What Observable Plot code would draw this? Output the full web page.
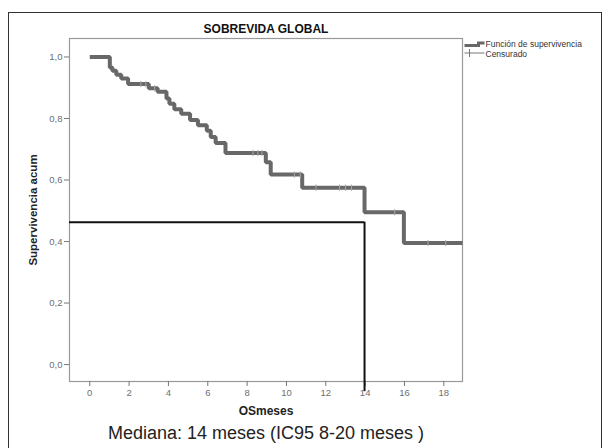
<!DOCTYPE html>
<html>
<head>
<meta charset="utf-8">
<script src="https://cdn.jsdelivr.net/npm/d3@7"></script>
<script src="https://cdn.jsdelivr.net/npm/@observablehq/plot@0.6"></script>
<style>
  html, body { margin: 0; padding: 0; background: #fff; }
  #wrap { position: relative; width: 613px; height: 448px; overflow: hidden; }
  #border { position: absolute; left: 8px; top: 12px; width: 594px; height: 450px; border: 1.5px solid #333; box-sizing: border-box; pointer-events: none; }
  #chart svg { display: block; }
</style>
</head>
<body>
<div id="wrap"><div id="chart"></div><div id="border"></div></div>
<script>
// Kaplan-Meier step points (time in months, cumulative survival)
const stepTimes = [0, 1.02, 1.15, 1.35, 1.6, 1.95, 3.0, 3.45, 3.9, 4.05, 4.3, 4.65, 5.1, 5.5, 5.95, 6.15, 6.4, 6.9, 8.95, 9.2, 10.8, 13.97, 15.97, 18.95];
const stepSurv  = [1.0, 0.966, 0.955, 0.942, 0.93, 0.912, 0.898, 0.887, 0.865, 0.848, 0.83, 0.815, 0.795, 0.778, 0.76, 0.74, 0.72, 0.688, 0.658, 0.618, 0.575, 0.495, 0.395, 0.395];
// Censored observations
const censorTimes = [2.6, 2.85, 3.3, 8.3, 8.55, 8.75, 10.4, 10.7, 11.5, 12.7, 13.0, 13.3, 15.5, 17.2, 18.1];
const censorSurv  = [0.912, 0.912, 0.898, 0.688, 0.688, 0.688, 0.618, 0.618, 0.575, 0.575, 0.575, 0.575, 0.495, 0.395, 0.395];
// Median annotation
const medianTime = 13.97;
const medianLevel = 0.463;
const medianBottom = -0.088;
const xDomain = [-1.03, 18.95];
const yDomain = [-0.055, 1.06];
const xTicks = [0, 2, 4, 6, 8, 10, 12, 14, 16, 18];
const yTicks = [0, 0.2, 0.4, 0.6, 0.8, 1.0];
const titleText = "SOBREVIDA GLOBAL";
const xLabel = "OSmeses";
const yLabel = "Supervivencia acum";
const caption = "Mediana: 14 meses (IC95 8-20 meses )";
const legendLabels = ["Función de supervivencia", "Censurado"];

const steps = stepTimes.map((t, i) => ({t, s: stepSurv[i]}));
const censors = censorTimes.map((t, i) => ({t, s: censorSurv[i]}));

const vbar = { draw(ctx, size) { const r = Math.sqrt(size / Math.PI); ctx.moveTo(0, -r); ctx.lineTo(0, r); } };
const legendStep = { draw(ctx, size) { ctx.moveTo(-10, 1); ctx.lineTo(4, 1); ctx.lineTo(4, -1.5); ctx.lineTo(10, -1.5); } };
const legendCens = { draw(ctx, size) { ctx.moveTo(-10, 0); ctx.lineTo(10, 0); ctx.moveTo(-5, -4); ctx.lineTo(-5, 4); } };

const font = "'Liberation Sans', Arial, sans-serif";

const chart = Plot.plot({
  width: 613,
  height: 448,
  marginLeft: 69,
  marginRight: 151,
  marginTop: 38,
  marginBottom: 67,
  style: { fontFamily: font, fontSize: "9.5px", color: "#6e6e6e", background: "transparent" },
  x: { domain: xDomain, label: null },
  y: { domain: yDomain, label: null },
  marks: [
    Plot.frame({ stroke: "#999", strokeWidth: 1.2 }),
    Plot.axisX({ ticks: xTicks, tickSize: 5, tickPadding: 3, label: null, stroke: "#777", fill: "#6e6e6e" }),
    Plot.axisY({ ticks: yTicks, tickSize: 5, tickPadding: 2, label: null, tickFormat: d => d.toFixed(1).replace(".", ","), stroke: "#777", fill: "#6e6e6e" }),
    Plot.line(steps, { x: "t", y: "s", curve: "step-after", stroke: "#686868", strokeWidth: 4, strokeLinejoin: "miter", strokeLinecap: "butt" }),
    Plot.dot(censors, { x: "t", y: "s", symbol: vbar, r: 3.2, stroke: "#a8a8a8", strokeWidth: 1, fill: "none" }),
    Plot.ruleY([medianLevel], { x1: xDomain[0], x2: medianTime, stroke: "#111", strokeWidth: 2 }),
    Plot.ruleX([medianTime], { y1: medianLevel, y2: medianBottom, stroke: "#111", strokeWidth: 2, clip: false }),
    Plot.text([titleText], { frameAnchor: "top", lineAnchor: "middle", dy: -9, fontSize: 12, fontWeight: "bold", fill: "#111" }),
    Plot.text([xLabel], { frameAnchor: "bottom", lineAnchor: "middle", dy: 30, fontSize: 12, fontWeight: "bold", fill: "#222", letterSpacing: "1px" }),
    Plot.text([yLabel], { frameAnchor: "left", textAnchor: "middle", lineAnchor: "middle", dx: -36, rotate: -90, fontSize: 11.5, fontWeight: "bold", fill: "#222" }),
    Plot.text([caption], { frameAnchor: "bottom", lineAnchor: "middle", dy: 52, fontSize: 18, fill: "#222" }),
    Plot.dot([legendLabels[0]], { frameAnchor: "top-right", dx: 12, dy: 6, symbol: legendStep, r: 3, stroke: "#686868", strokeWidth: 3, fill: "none" }),
    Plot.dot([legendLabels[1]], { frameAnchor: "top-right", dx: 12, dy: 14.5, symbol: legendCens, r: 3, stroke: "#777", strokeWidth: 1, fill: "none" }),
    Plot.text([legendLabels[0]], { frameAnchor: "top-right", lineAnchor: "middle", dx: 23, dy: 6, textAnchor: "start", fontSize: 8.5, letterSpacing: "1.3px", fill: "#333" }),
    Plot.text([legendLabels[1]], { frameAnchor: "top-right", lineAnchor: "middle", dx: 23, dy: 15.5, textAnchor: "start", fontSize: 8.5, letterSpacing: "1.3px", fill: "#333" })
  ]
});
document.getElementById("chart").appendChild(chart);
</script>
</body>
</html>
